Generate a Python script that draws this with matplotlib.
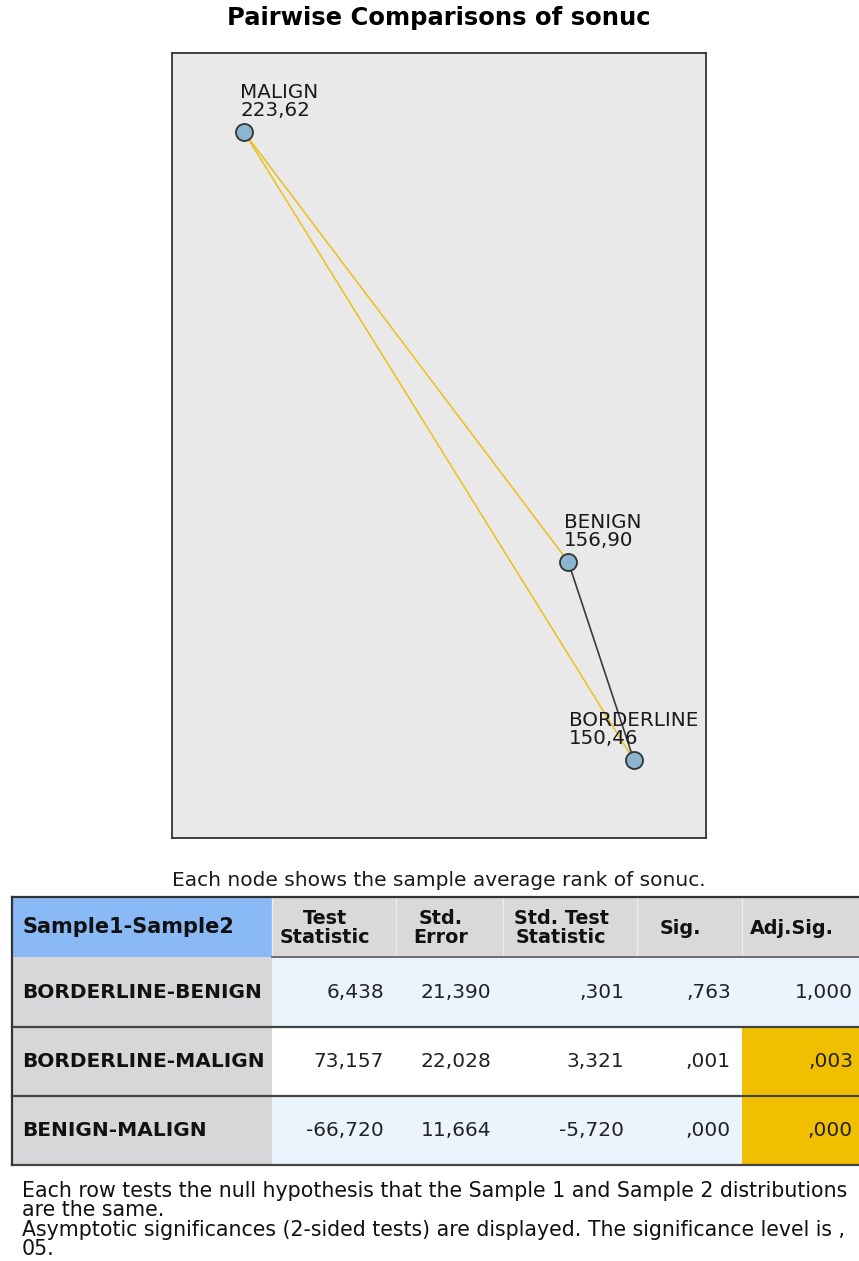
import matplotlib.pyplot as plt
from matplotlib.patches import Rectangle

# mean ranks per group and where each node sits in the network panel (0..1, y down)
groups = ['MALIGN', 'BENIGN', 'BORDERLINE']
mean_ranks = [223.62, 156.90, 150.46]
node_x = [0.135, 0.742, 0.865]
node_y = [0.101, 0.648, 0.901]

# pairwise test results
pairs = [('BORDERLINE', 'BENIGN'), ('BORDERLINE', 'MALIGN'), ('BENIGN', 'MALIGN')]
test_stat = [6.438, 73.157, -66.720]
std_error = [21.390, 22.028, 11.664]
std_test_stat = [0.301, 3.321, -5.720]
sig = [0.763, 0.001, 0.000]
adj_sig = [1.000, 0.003, 0.000]

headers = ['Sample1-Sample2', 'Test\nStatistic', 'Std.\nError', 'Std. Test\nStatistic', 'Sig.', 'Adj.Sig.']
notes = ['Each row tests the null hypothesis that the Sample 1 and Sample 2 distributions',
         'are the same.',
         'Asymptotic significances (2-sided tests) are displayed. The significance level is ,',
         '05.']
alpha = 0.05

W, H = 859, 1261
SANS = ['DejaVu Sans']


def fmt(v, nd):
    s = f'{v:.{nd}f}'
    if abs(v) < 1:
        s = s.replace('0.', '.', 1)
    return s.replace('.', ',')


fig = plt.figure(figsize=(W / 100, H / 100), dpi=100)
ax = fig.add_axes([0, 0, 1, 1])
ax.set_xlim(0, W)
ax.set_ylim(H, 0)
ax.axis('off')

ax.text(439, 18, 'Pairwise Comparisons of sonuc', ha='center', va='center',
        fontsize=17.5, fontweight='bold', family=SANS)

# network panel
bx0, by0, bx1, by1 = 172, 53, 706, 838
net = fig.add_axes([bx0 / W, 1 - by1 / H, (bx1 - bx0) / W, (by1 - by0) / H])
net.set_xlim(0, 1)
net.set_ylim(1, 0)
net.set_facecolor('#e9e9e9')
net.set_xticks([])
net.set_yticks([])
for sp in net.spines.values():
    sp.set_color('#333333')
    sp.set_linewidth(1.3)
    sp.set_zorder(5)

pos = {g: (x, y) for g, x, y in zip(groups, node_x, node_y)}
for (a, b), p in zip(pairs, adj_sig):
    col = '#ecc229' if p < alpha else '#3a3a3a'
    net.plot([pos[a][0], pos[b][0]], [pos[a][1], pos[b][1]], color=col, lw=1.2, zorder=2)

net.scatter(node_x, node_y, s=150, facecolor='#8cb6cf', edgecolor='#333333',
            linewidth=1.3, zorder=3)
labels = []
for g, r, x, y in zip(groups, mean_ranks, node_x, node_y):
    lab = net.annotate(f'{g}\n{fmt(r, 2)}', (x, y), xytext=(-4, 12),
                       textcoords='offset pixels', ha='left', va='bottom',
                       fontsize=14.3, family=SANS, color='#1a1a1a',
                       linespacing=0.92, zorder=4)
    lab.set_clip_box(net.bbox)
    labels.append(lab)

# labels running past the frame get pulled back inside it
fig.canvas.draw()
renderer = fig.canvas.get_renderer()
for lab in labels:
    bb = lab.get_window_extent(renderer)
    over = bb.x1 - (bx1 - 8)
    if over > 0:
        ox, oy = lab.xyann
        lab.xyann = (ox - over, oy)

ax.text(439, 880, 'Each node shows the sample average rank of sonuc.', ha='center',
        va='center', fontsize=14.5, family=SANS, color='#1a1a1a')

# results table
col_x = [12, 272, 396, 503, 637, 742, 871]
row_y = [897, 957, 1027, 1096, 1165]
num_right = [384, 491, 624, 731, 853]

for i in range(6):
    fc = '#8abaf5' if i == 0 else '#d9d9d9'
    ax.add_patch(Rectangle((col_x[i], row_y[0]), col_x[i + 1] - col_x[i], row_y[1] - row_y[0],
                           facecolor=fc, edgecolor='none'))
    if i > 0:
        ax.plot([col_x[i], col_x[i]], [row_y[0], row_y[1]], color='#ececec', lw=1)

columns = [test_stat, std_error, std_test_stat, sig, adj_sig]
for r in range(len(pairs)):
    y0, y1 = row_y[r + 1], row_y[r + 2]
    body = '#ffffff' if r == 1 else '#ebf4fd'
    ax.add_patch(Rectangle((col_x[0], y0), col_x[1] - col_x[0], y1 - y0,
                           facecolor='#d7d7d9', edgecolor='none'))
    ax.add_patch(Rectangle((col_x[1], y0), col_x[-1] - col_x[1], y1 - y0,
                           facecolor=body, edgecolor='none'))
    if adj_sig[r] < alpha:
        ax.add_patch(Rectangle((col_x[5], y0), col_x[6] - col_x[5], y1 - y0,
                               facecolor='#f0c000', edgecolor='none'))
    yc = (y0 + y1) / 2
    ax.text(22, yc, '-'.join(pairs[r]), ha='left', va='center', fontsize=14.5,
            fontweight='bold', family=SANS, color='#111111')
    for c, vals in enumerate(columns):
        ax.text(num_right[c], yc, fmt(vals[r], 3), ha='right', va='center',
                fontsize=14.5, family=SANS, color='#222222')

hy = (row_y[0] + row_y[1]) / 2
ax.text(22, hy, headers[0], ha='left', va='center', fontsize=15, fontweight='bold',
        family=SANS, color='#111111')
for i in range(1, 6):
    ax.text((col_x[i] + min(col_x[i + 1], W)) / 2 - 9, hy + 1, headers[i], ha='center',
            va='center', fontsize=13.8, fontweight='bold', family=SANS,
            color='#111111', linespacing=1.0)

# table rules
ax.plot([col_x[0], W], [row_y[0], row_y[0]], color='#333333', lw=1.6)
ax.plot([col_x[1], W], [row_y[1], row_y[1]], color='#555555', lw=1.2)
for y in row_y[2:]:
    ax.plot([col_x[0], W], [y, y], color='#444444', lw=1.6)
ax.plot([col_x[0], col_x[0]], [row_y[0], row_y[-1]], color='#333333', lw=1.6)

# footnotes, one baseline per line
for k, line in enumerate(notes):
    ax.text(22, 1197 + 19.3 * k, line, ha='left', va='baseline', fontsize=14.8,
            family=SANS, color='#111111')

fig.savefig('out.png', dpi=100)
